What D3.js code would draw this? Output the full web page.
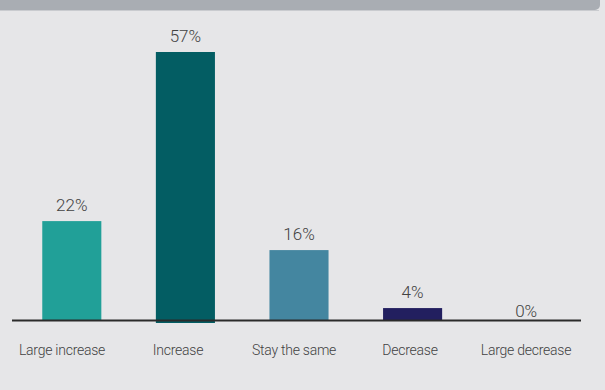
<!DOCTYPE html>
<html>
<head>
<meta charset="utf-8">
<script src="https://cdn.jsdelivr.net/npm/d3@7"></script>
<style>
  html, body { margin: 0; padding: 0; background: #e6e6e8; }
  svg { display: block; }
  text { font-family: Roboto, "Liberation Sans", sans-serif; font-weight: 300; fill: #424242; }
</style>
</head>
<body>
<svg id="chart" width="605" height="390"></svg>
<script>
// Survey answers and their shares (%)
const categories = ["Large increase", "Increase", "Stay the same", "Decrease", "Large decrease"];
const values = [22, 57, 16, 4, 0];
const valueLabels = ["22%", "57%", "16%", "4%", "0%"];
const barColors = ["#21a098", "#035d63", "#4486a0", "#221f5f", "#221f5f"];

const W = 605, H = 390;
const svg = d3.select("#chart");

// page background and the grey header strip
svg.append("rect").attr("width", W).attr("height", H).attr("fill", "#e6e6e8");
svg.append("rect").attr("x", -6).attr("y", -6).attr("width", W + 1).attr("height", 16)
  .attr("rx", 5).attr("fill", "#a9adb3");
svg.append("line").attr("x1", 0).attr("x2", W - 6).attr("y1", 10.5).attr("y2", 10.5)
  .attr("stroke", "#c9cbcf").attr("stroke-width", 1);

const axisY = 320.5;

// bar slots
const x = d3.scaleBand()
  .domain(categories)
  .range([15, 583])
  .paddingInner(0.48)
  .paddingOuter(0.24);

// label slots along the axis (slightly wider spread than the bars)
const xLab = d3.scaleBand()
  .domain(categories)
  .range([4, 584]);

const y = d3.scaleLinear()
  .domain([0, 57])
  .range([327.4, 52]);

const rows = categories.map((c, i) => ({ cat: c, v: values[i], label: valueLabels[i], color: barColors[i] }));

// bars rise from the axis line
svg.append("g").selectAll("rect")
  .data(rows.filter(d => d.v > 0))
  .join("rect")
  .attr("x", d => x(d.cat))
  .attr("width", x.bandwidth())
  .attr("y", d => y(d.v))
  .attr("height", d => axisY - y(d.v) + (d.cat === "Increase" ? 2.5 : 0))
  .attr("fill", d => d.color);

// baseline
svg.append("line")
  .attr("x1", 12).attr("x2", 581)
  .attr("y1", axisY).attr("y2", axisY)
  .attr("stroke", "#2b2b2b").attr("stroke-width", 2);

// value labels above each bar
svg.append("g").selectAll("text")
  .data(rows)
  .join("text")
  .attr("x", d => x(d.cat) + x.bandwidth() / 2)
  .attr("y", d => y(d.v) - 10)
  .attr("text-anchor", "middle")
  .style("font-size", "17px")
  .text(d => d.label);

// category axis labels
const xAxis = d3.axisBottom(xLab).tickSize(0).tickPadding(0);
const gx = svg.append("g").attr("transform", `translate(0,${axisY})`).call(xAxis);
gx.select(".domain").remove();
gx.selectAll("text")
  .attr("y", 34.5)
  .attr("dy", 0)
  .style("font-size", "14px")
  .style("letter-spacing", "-0.25px")
  .style("font-family", "Roboto, sans-serif")
  .attr("fill", "#424242");
</script>
</body>
</html>
